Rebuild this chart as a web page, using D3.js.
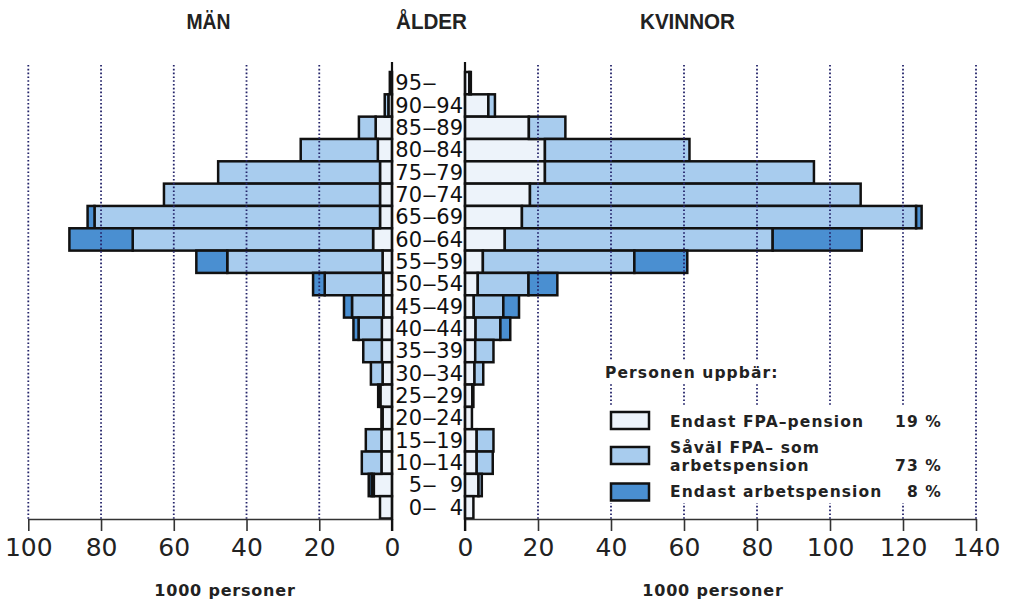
<!DOCTYPE html>
<html><head><meta charset="utf-8">
<script src="https://cdn.jsdelivr.net/npm/d3@7"></script>
<style>body{margin:0;background:#fff}</style></head><body>
<svg id="c" width="1012" height="601"></svg>
<script>
// ---- data (1000 persons) ----
const ages = ["95-","90-94","85-89","80-84","75-79","70-74","65-69","60-64","55-59","50-54","45-49","40-44","35-39","30-34","25-29","20-24","15-19","10-14","5-9","0-4"];
// Men
const menFPA  = [0.6, 1.0, 4.5, 3.9, 3.3, 3.3, 3.3, 5.2, 2.6, 2.4, 2.4, 2.8, 2.8, 2.6, 3.2, 2.6, 2.9, 2.9, 5.0, 3.3];
const menBoth = [0,   1.0, 4.6,21.2,44.5,59.4,78.5,66.1,42.7,16.1, 8.6, 6.4, 5.1, 3.2, 0.6, 0.3, 4.3, 5.4, 0.6, 0];
const menWork = [0,   0,   0,   0,   0,   0,   1.9,17.4, 8.5, 3.2, 2.2, 1.4, 0,   0,   0,   0,   0,   0,   0.8, 0];
// Women
const womFPA  = [1.2, 6.4,17.5,21.9,21.9,17.8,15.6,10.9, 4.9, 3.5, 2.4, 2.9, 2.8, 2.6, 2.0, 1.9, 3.2, 3.2, 3.7, 2.3];
const womBoth = [0.4, 1.8,10.0,39.6,73.7,90.6,108.0,73.4,41.5,13.9, 8.1, 6.8, 5.0, 2.4, 0.3, 0,   4.6, 4.4, 0.9, 0];
const womWork = [0,   0,   0,   0,   0,   0,   1.5,24.4,14.5, 7.9, 4.3, 2.7, 0,   0,   0,   0,   0,   0,   0,   0];

const leftTicks  = [0,20,40,60,80,100];
const rightTicks = [0,20,40,60,80,100,120,140];
const legendLabels = [["Endast FPA–pension"],["Såväl FPA– som","arbetspension"],["Endast arbetspension"]];
const legendShares = ["19 %","73 %","8 %"];
const keys = ["fpa","both","work"];
const colors = {fpa:"#edf3fa", both:"#a8ccee", work:"#4a8fd1"};

// ---- build tables ----
const menRows = ages.map((a,i)=>({age:a, fpa:menFPA[i], both:menBoth[i], work:menWork[i]}));
const womRows = ages.map((a,i)=>({age:a, fpa:womFPA[i], both:womBoth[i], work:womWork[i]}));
const stack = d3.stack().keys(keys);
const menStack = stack(menRows), womStack = stack(womRows);

const svg = d3.select("#c");
const y  = d3.scaleBand().domain(ages).range([72, 518.5]).padding(0);
const xL = d3.scaleLinear().domain([0,100]).range([392, 28.3]);
const xR = d3.scaleLinear().domain([0,140]).range([465, 976]);

// ---- bars ----
function drawSide(st, x, left){
  const g = svg.append("g");
  st.forEach(layer=>{
    g.selectAll(null).data(layer.filter(d=>d[1]-d[0]>0)).enter().append("rect")
      .attr("x", d=> left ? x(d[1]) : x(d[0]))
      .attr("width", d=> Math.abs(x(d[1])-x(d[0])))
      .attr("y", d=> y(d.data.age))
      .attr("height", y.bandwidth())
      .attr("fill", colors[layer.key])
      .attr("stroke", "#111").attr("stroke-width", 2.5);
  });
}
drawSide(menStack, xL, true);
drawSide(womStack, xR, false);

// ---- gridlines (dotted) ----
const grid = svg.append("g").attr("stroke","#24246a").attr("stroke-width",1.8).attr("stroke-dasharray","1.6,2.2");
grid.selectAll(null).data(leftTicks.filter(d=>d>0)).enter().append("line")
  .attr("x1",d=>xL(d)).attr("x2",d=>xL(d)).attr("y1",65).attr("y2",519);
grid.selectAll(null).data(rightTicks.filter(d=>d>0)).enter().append("line")
  .attr("x1",d=>xR(d)).attr("x2",d=>xR(d)).attr("y1",65).attr("y2",519);

// ---- legend knock-outs ----
svg.append("rect").attr("x",600).attr("y",360).attr("width",192).attr("height",24).attr("fill","#fff");
svg.append("rect").attr("x",600).attr("y",405).attr("width",352).attr("height",98).attr("fill","#fff");

// ---- axes ----
function axis(x, ticks){
  const a = d3.axisBottom(x).tickValues(ticks).tickSize(12).tickSizeOuter(0).tickFormat(d3.format("d"));
  const g = svg.append("g").attr("transform","translate(0,519)").call(a);
  g.select(".domain").attr("stroke","#333").attr("stroke-width",1.6);
  g.selectAll(".tick line").attr("stroke","#333").attr("stroke-width",1.6);
  g.selectAll(".tick text").attr("y",37).attr("dy",0)
    .attr("font-family","DejaVu Sans").attr("font-size",25).attr("fill","#222");
}
axis(xL, leftTicks);
axis(xR, rightTicks);

// vertical center axes
svg.append("line").attr("x1",xL(0)).attr("x2",xL(0)).attr("y1",62).attr("y2",531).attr("stroke","#111").attr("stroke-width",2.2);
svg.append("line").attr("x1",xR(0)).attr("x2",xR(0)).attr("y1",62).attr("y2",531).attr("stroke","#111").attr("stroke-width",2.2);

// ---- age labels ----
const lab = svg.append("g").attr("font-family","DejaVu Sans").attr("font-size",21).attr("fill","#111");
ages.forEach(a=>{
  const [lo,hi] = a.split("-");
  const cy = y(a) + y.bandwidth()/2 + 7.3;
  lab.append("text").attr("x",422).attr("y",cy).attr("text-anchor","end").text(lo);
  lab.append("text").attr("x",422).attr("y",cy).attr("textLength",15).attr("lengthAdjust","spacingAndGlyphs").text("–");
  if(hi) lab.append("text").attr("x",463).attr("y",cy).attr("text-anchor","end").text(hi);
});

// ---- headers ----
const hdr = [["MÄN",208.5,44],["ÅLDER",431.5,71],["KVINNOR",687.5,95]];
hdr.forEach(([t,cx,w])=>{
  svg.append("text").attr("x",cx).attr("y",29).attr("text-anchor","middle")
    .attr("font-family","Liberation Sans").attr("font-weight","bold").attr("font-size",22)
    .attr("fill","#222").attr("textLength",w).attr("lengthAdjust","spacingAndGlyphs").text(t);
});

// ---- unit labels ----
[225,713].forEach(cx=>{
  svg.append("text").attr("x",cx).attr("y",596).attr("text-anchor","middle")
    .attr("font-family","DejaVu Sans").attr("font-weight","bold").attr("font-size",16)
    .attr("letter-spacing",0.8).attr("fill","#222").text("1000 personer");
});

// ---- legend ----
const lg = svg.append("g").attr("font-family","DejaVu Sans").attr("font-weight","bold")
  .attr("font-size",15.5).attr("letter-spacing",1.1).attr("fill","#222");
lg.append("text").attr("x",605).attr("y",378).text("Personen uppbär:");
const boxY = [412, 447, 483.5];
const textY = [[426.5],[453,471],[496.5]];
const shareY = [426.5, 471, 496.5];
keys.forEach((k,i)=>{
  svg.append("rect").attr("x",611).attr("y",boxY[i]).attr("width",38).attr("height",17)
    .attr("fill",colors[k]).attr("stroke","#111").attr("stroke-width",2.5);
  legendLabels[i].forEach((t,j)=>{
    lg.append("text").attr("x",670).attr("y",textY[i][j]).text(t);
  });
  lg.append("text").attr("x",942).attr("y",shareY[i]).attr("text-anchor","end").text(legendShares[i]);
});
</script>
</body></html>
